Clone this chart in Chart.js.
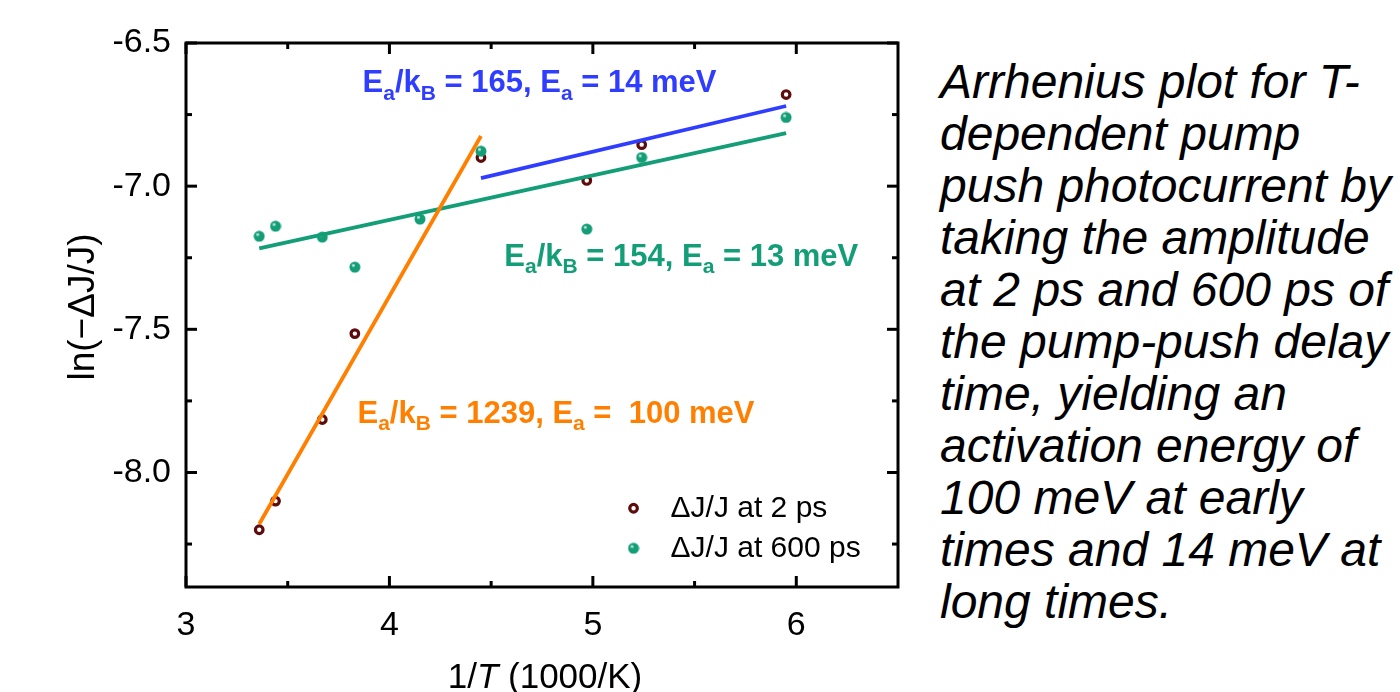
<!DOCTYPE html>
<html><head><meta charset="utf-8">
<script src="https://cdn.jsdelivr.net/npm/chart.js@4"></script>
<style>
html,body{margin:0;padding:0;background:#fff;width:1400px;height:692px;overflow:hidden;}
#wrap{position:absolute;left:0;top:0;width:920px;height:692px;}
#caption{position:absolute;left:940px;top:56px;font-family:"Liberation Sans",Arial,sans-serif;font-style:italic;font-size:48px;line-height:52px;color:#000;white-space:nowrap;}
</style></head><body>
<div id="wrap"><canvas id="c" width="920" height="692"></canvas></div>
<div id="caption">Arrhenius plot for T-<br>dependent pump<br>push photocurrent by<br>taking the amplitude<br>at 2 ps and 600 ps of<br>the pump-push delay<br>time, yielding an<br>activation energy of<br>100 meV at early<br>times and 14 meV at<br>long times.</div>
<script>
// ---- data ----
const xTicks = [3, 4, 5, 6];
const xMinorTicks = [3.5, 4.5, 5.5];
const yTicks = [-6.5, -7.0, -7.5, -8.0];
const yMinorTicks = [-6.75, -7.25, -7.75, -8.25];

const invT2ps = [3.36, 3.44, 3.67, 3.83, 4.45, 4.97, 5.24, 5.95];
const lnJ2ps  = [-8.20, -8.10, -7.815, -7.515, -6.90, -6.98, -6.855, -6.68];

const invT600ps = [3.36, 3.44, 3.67, 3.83, 4.15, 4.45, 4.97, 5.24, 5.95];
const lnJ600ps  = [-7.175, -7.14, -7.178, -7.283, -7.115, -6.878, -7.15, -6.90, -6.76];

const fitEarlyX = [3.36, 4.45];
const fitEarlyY = [-8.18, -6.825];
const fitLate2psX = [4.45, 5.95];
const fitLate2psY = [-6.972, -6.72];
const fit600psX = [3.36, 5.95];
const fit600psY = [-7.217, -6.815];

const seriesLabels = ['\u0394J/J at 2 ps', '\u0394J/J at 600 ps'];
const xTitleParts = [['1/', false], ['T', true], [' (1000/K)', false]];
const yTitle = 'ln(\u2212\u0394J/J)';

const annBlueText = [['E',0],['a',1],['/k',0],['B',1],[' = 165, E',0],['a',1],[' = 14 meV',0]];
const annGreenText = [['E',0],['a',1],['/k',0],['B',1],[' = 154, E',0],['a',1],[' = 13 meV',0]];
const annOrangeText = [['E',0],['a',1],['/k',0],['B',1],[' = 1239, E',0],['a',1],[' =  100 meV',0]];

// ---- styles / placement ----
const COL_BROWN = '#5e0b0b';
const COL_GREEN = '#139e78';
const COL_BLUE = '#2f3dff';
const COL_ORANGE = '#ff8000';
const FONT = '"Liberation Sans", Arial, sans-serif';

const annotations = [
  {parts: annBlueText, x: 3.868, y: -6.643, color: COL_BLUE},
  {parts: annGreenText, x: 4.565, y: -7.248, color: COL_GREEN},
  {parts: annOrangeText, x: 3.843, y: -7.797, color: COL_ORANGE}
];
const legendAnchor = {x: 5.2, y: -8.125};

function zip(xs, ys){ return xs.map((x,i)=>({x:x, y:ys[i]})); }

// green sphere-like marker
function makeGreenDot(){
  const c = document.createElement('canvas');
  c.width = 12; c.height = 12;
  const g = c.getContext('2d');
  g.beginPath(); g.arc(6,6,5.5,0,Math.PI*2); g.fillStyle = COL_GREEN; g.fill();
  g.beginPath(); g.arc(4.5,4.3,1.5,0,Math.PI*2); g.fillStyle = 'rgba(255,255,255,0.7)'; g.fill();
  return c;
}
const greenDot = makeGreenDot();

function drawRich(ctx, parts, x, y, size, color){
  ctx.save();
  ctx.fillStyle = color;
  ctx.textBaseline = 'middle';
  ctx.textAlign = 'left';
  let cx = x;
  for (const [t, sub] of parts){
    if (sub){
      ctx.font = 'bold ' + Math.round(size*0.68) + 'px ' + FONT;
      ctx.fillText(t, cx, y + size*0.33);
    } else {
      ctx.font = 'bold ' + size + 'px ' + FONT;
      ctx.fillText(t, cx, y);
    }
    cx += ctx.measureText(t).width;
  }
  ctx.restore();
}

const framePlugin = {
  id: 'framePlugin',
  afterDatasetsDraw(chart){
    const ctx = chart.ctx;
    const xs = chart.scales.x, ys = chart.scales.y;
    for (const a of annotations){
      drawRich(ctx, a.parts, xs.getPixelForValue(a.x), ys.getPixelForValue(a.y), 31, a.color);
    }
  },
  afterDraw(chart){
    const ctx = chart.ctx;
    const ca = chart.chartArea;
    const xs = chart.scales.x, ys = chart.scales.y;
    ctx.save();
    ctx.strokeStyle = '#000';
    ctx.lineWidth = 3;
    ctx.lineCap = 'butt';
    const tick = (x1,y1,x2,y2)=>{ ctx.beginPath(); ctx.moveTo(x1,y1); ctx.lineTo(x2,y2); ctx.stroke(); };
    const MAJ = 11, MIN = 6;
    for (const v of xTicks){ const p = xs.getPixelForValue(v); tick(p, ca.bottom, p, ca.bottom-MAJ); tick(p, ca.top, p, ca.top+MAJ); }
    for (const v of xMinorTicks){ const p = xs.getPixelForValue(v); tick(p, ca.bottom, p, ca.bottom-MIN); tick(p, ca.top, p, ca.top+MIN); }
    for (const v of yTicks){ const p = ys.getPixelForValue(v); tick(ca.left, p, ca.left+MAJ, p); tick(ca.right, p, ca.right-MAJ, p); }
    for (const v of yMinorTicks){ const p = ys.getPixelForValue(v); tick(ca.left, p, ca.left+MIN, p); tick(ca.right, p, ca.right-MIN, p); }
    ctx.lineJoin = 'miter';
    ctx.strokeRect(ca.left, ca.top, ca.right-ca.left, ca.bottom-ca.top);
    // legend
    const lx = xs.getPixelForValue(legendAnchor.x), ly = ys.getPixelForValue(legendAnchor.y);
    ctx.beginPath(); ctx.arc(lx, ly, 3.8, 0, Math.PI*2); ctx.fillStyle = '#fff'; ctx.fill();
    ctx.lineWidth = 3.2; ctx.strokeStyle = COL_BROWN; ctx.stroke();
    ctx.drawImage(greenDot, lx-6, ly+40-6);
    ctx.fillStyle = '#000';
    ctx.font = '30px ' + FONT;
    ctx.textBaseline = 'middle'; ctx.textAlign = 'left';
    ctx.fillText(seriesLabels[0], lx+37, ly);
    ctx.fillText(seriesLabels[1], lx+37, ly+40);
    // x title
    let total = 0;
    for (const [t, it] of xTitleParts){ ctx.font = (it?'italic ':'') + '35px ' + FONT; total += ctx.measureText(t).width; }
    let cx = 545 - total/2;
    ctx.textBaseline = 'alphabetic';
    for (const [t, it] of xTitleParts){ ctx.font = (it?'italic ':'') + '35px ' + FONT; ctx.fillText(t, cx, 688); cx += ctx.measureText(t).width; }
    // y title
    ctx.translate(84, 307);
    ctx.rotate(-Math.PI/2);
    ctx.font = '37px ' + FONT;
    ctx.textAlign = 'center'; ctx.textBaseline = 'middle';
    ctx.fillText(yTitle, 0, 0);
    ctx.restore();
  }
};

new Chart(document.getElementById('c'), {
  type: 'scatter',
  data: {
    datasets: [
      {label: seriesLabels[0], data: zip(invT2ps, lnJ2ps), pointStyle: 'circle', pointRadius: 3.8, pointBorderWidth: 3.2,
       pointBackgroundColor: '#fff', pointBorderColor: COL_BROWN, showLine: false, order: 3},
      {label: seriesLabels[1], data: zip(invT600ps, lnJ600ps), pointStyle: greenDot, pointRadius: 5.5, showLine: false, order: 2},
      {label: 'fit early', data: zip(fitEarlyX, fitEarlyY), showLine: true, borderColor: COL_ORANGE, borderWidth: 3.8, pointRadius: 0, order: 1},
      {label: 'fit 2ps late', data: zip(fitLate2psX, fitLate2psY), showLine: true, borderColor: COL_BLUE, borderWidth: 3.8, pointRadius: 0, order: 1},
      {label: 'fit 600ps', data: zip(fit600psX, fit600psY), showLine: true, borderColor: COL_GREEN, borderWidth: 3.8, pointRadius: 0, order: 1}
    ]
  },
  options: {
    responsive: false,
    animation: false,
    devicePixelRatio: 1,
    layout: {padding: {left: 0, top: 43, right: 22, bottom: 0}},
    plugins: {legend: {display: false}, tooltip: {enabled: false}},
    scales: {
      x: {
        type: 'linear', min: 3, max: 6.5,
        afterBuildTicks(s){ s.ticks = xTicks.map(v=>({value:v})); },
        afterFit(s){ s.height = 105; },
        grid: {display: false, drawTicks: false},
        border: {display: false},
        ticks: {color: '#000', font: {family: FONT, size: 34}, padding: 18, maxRotation: 0, callback: v => String(v)}
      },
      y: {
        type: 'linear', min: -8.4, max: -6.5,
        afterBuildTicks(s){ s.ticks = yTicks.map(v=>({value:v})); },
        afterFit(s){ s.width = 186; },
        grid: {display: false, drawTicks: false},
        border: {display: false},
        ticks: {color: '#000', font: {family: FONT, size: 34}, padding: 15, callback: v => Number(v).toFixed(1)}
      }
    }
  },
  plugins: [framePlugin]
});
</script>
</body></html>
